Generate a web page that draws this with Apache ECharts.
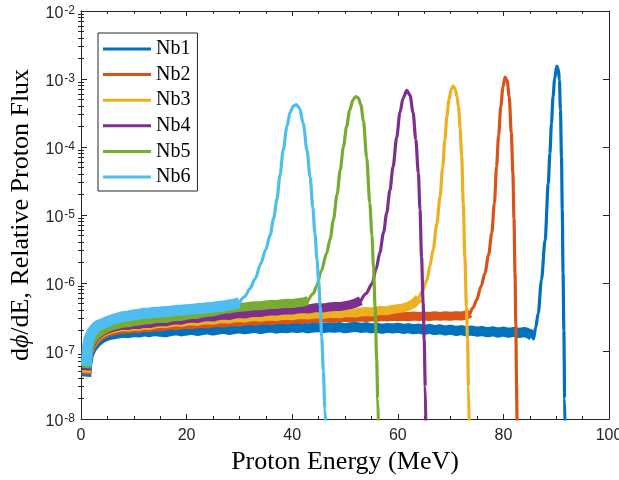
<!DOCTYPE html>
<html><head><meta charset="utf-8">
<script src="https://cdn.jsdelivr.net/npm/echarts@6/dist/echarts.min.js"></script>
<style>html,body{margin:0;padding:0;background:#fff}#c{width:619px;height:480px}</style>
</head><body><div id="c"></div>
<script>
const seriesNames = ['Nb1','Nb2','Nb3','Nb4','Nb5','Nb6'];
const seriesColors = ['#0072BD','#D95319','#EDB120','#7E2F8E','#77AC30','#4DBEEE'];
const xTickLabels = ['0','20','40','60','80','100'];
const yTickExps = ['-8','-7','-6','-5','-4','-3','-2'];

// noisy plateau parts [energy MeV, flux]
const nb1Band = [[1,4.2e-8],[1.2,6.5e-8],[1.5,8.8e-8],[2,1.08e-7],[2.5,1.22e-7],[3,1.35e-7],[3.5,1.45e-7],[4,1.55e-7],[5,1.68e-7],[6,1.75e-7],[7,1.80e-7],[8,1.86e-7],[9,1.83e-7],[10,1.90e-7],[11,1.87e-7],[12,1.95e-7],[13,1.89e-7],[14,1.97e-7],[15,1.92e-7],[16,1.88e-7],[17,1.96e-7],[18,2.02e-7],[19,1.94e-7],[20,2.00e-7],[21,2.05e-7],[22,1.97e-7],[23,2.03e-7],[24,2.08e-7],[25,2.00e-7],[26,2.06e-7],[27,2.12e-7],[28,2.04e-7],[29,2.10e-7],[30,2.15e-7],[31,2.08e-7],[32,2.14e-7],[33,2.19e-7],[34,2.10e-7],[35,2.17e-7],[36,2.22e-7],[37,2.13e-7],[38,2.20e-7],[39,2.16e-7],[40,2.24e-7],[41,2.18e-7],[42,2.23e-7],[43,2.15e-7],[44,2.21e-7],[45,2.26e-7],[46,2.17e-7],[47,2.24e-7],[48,2.19e-7],[49,2.25e-7],[50,2.16e-7],[51,2.22e-7],[52,2.27e-7],[53,2.18e-7],[54,2.24e-7],[55,2.15e-7],[56,2.21e-7],[57,2.12e-7],[58,2.19e-7],[59,2.14e-7],[60,2.20e-7],[61,2.11e-7],[62,2.17e-7],[63,2.08e-7],[64,2.14e-7],[65,2.05e-7],[66,2.12e-7],[67,2.03e-7],[68,2.09e-7],[69,2.00e-7],[70,2.06e-7],[71,1.97e-7],[72,2.03e-7],[73,1.94e-7],[74,2.00e-7],[75,1.92e-7],[76,1.97e-7],[77,1.88e-7],[78,1.95e-7],[79,1.86e-7],[80,1.93e-7],[81,1.85e-7],[82,1.91e-7],[83,1.84e-7],[84,1.90e-7],[85,1.78e-7],[85.5,1.65e-7]];
const nb2Band = [[1,4.5e-8],[1.2,7e-8],[1.5,9.5e-8],[2,1.18e-7],[2.5,1.35e-7],[3,1.5e-7],[3.5,1.62e-7],[4,1.72e-7],[5,1.88e-7],[6,1.98e-7],[7,2.05e-7],[8,2.12e-7],[9,2.10e-7],[10,2.18e-7],[11,2.15e-7],[12,2.24e-7],[13,2.20e-7],[14,2.29e-7],[15,2.25e-7],[16,2.33e-7],[17,2.40e-7],[18,2.34e-7],[19,2.43e-7],[20,2.48e-7],[21,2.42e-7],[22,2.52e-7],[23,2.56e-7],[24,2.50e-7],[25,2.60e-7],[26,2.64e-7],[27,2.58e-7],[28,2.68e-7],[29,2.72e-7],[30,2.66e-7],[31,2.76e-7],[32,2.80e-7],[33,2.73e-7],[34,2.83e-7],[35,2.86e-7],[36,2.79e-7],[37,2.88e-7],[38,2.92e-7],[39,2.85e-7],[40,2.94e-7],[41,2.97e-7],[42,2.90e-7],[43,2.99e-7],[44,3.02e-7],[45,2.95e-7],[46,3.04e-7],[47,3.07e-7],[48,3.00e-7],[49,3.09e-7],[50,3.12e-7],[51,3.05e-7],[52,3.13e-7],[53,3.17e-7],[54,3.10e-7],[55,3.19e-7],[56,3.14e-7],[57,3.22e-7],[58,3.16e-7],[59,3.24e-7],[60,3.18e-7],[61,3.25e-7],[62,3.19e-7],[63,3.27e-7],[64,3.21e-7],[65,3.28e-7],[66,3.22e-7],[67,3.29e-7],[68,3.23e-7],[69,3.30e-7],[70,3.24e-7],[71,3.31e-7],[72,3.26e-7],[73,3.38e-7],[73.7,3.6e-7]];
const nb3Band = [[1,4.8e-8],[1.2,7.4e-8],[1.5,1.0e-7],[2,1.25e-7],[2.5,1.43e-7],[3,1.6e-7],[3.5,1.73e-7],[4,1.84e-7],[5,2.0e-7],[6,2.12e-7],[7,2.2e-7],[8,2.28e-7],[9,2.25e-7],[10,2.34e-7],[11,2.31e-7],[12,2.41e-7],[13,2.38e-7],[14,2.48e-7],[15,2.56e-7],[16,2.52e-7],[17,2.62e-7],[18,2.68e-7],[19,2.62e-7],[20,2.73e-7],[21,2.78e-7],[22,2.72e-7],[23,2.84e-7],[24,2.89e-7],[25,2.83e-7],[26,2.95e-7],[27,3.0e-7],[28,2.94e-7],[29,3.06e-7],[30,3.1e-7],[31,3.04e-7],[32,3.15e-7],[33,3.2e-7],[34,3.13e-7],[35,3.24e-7],[36,3.28e-7],[37,3.21e-7],[38,3.32e-7],[39,3.36e-7],[40,3.29e-7],[41,3.40e-7],[42,3.44e-7],[43,3.37e-7],[44,3.48e-7],[45,3.52e-7],[46,3.45e-7],[47,3.56e-7],[48,3.60e-7],[49,3.53e-7],[50,3.64e-7],[51,3.68e-7],[52,3.62e-7],[53,3.74e-7],[54,3.80e-7],[55,3.75e-7],[56,3.88e-7],[57,3.95e-7],[58,3.92e-7],[59,4.08e-7],[60,4.2e-7],[61,4.3e-7],[62,4.55e-7],[63,5.0e-7],[64,6.0e-7]];
const nb4Band = [[1,5.2e-8],[1.2,7.8e-8],[1.5,1.05e-7],[2,1.3e-7],[2.5,1.5e-7],[3,1.67e-7],[3.5,1.8e-7],[4,1.92e-7],[5,2.1e-7],[6,2.22e-7],[7,2.32e-7],[8,2.40e-7],[9,2.38e-7],[10,2.48e-7],[11,2.45e-7],[12,2.56e-7],[13,2.53e-7],[14,2.64e-7],[15,2.72e-7],[16,2.68e-7],[17,2.80e-7],[18,2.88e-7],[19,2.83e-7],[20,2.98e-7],[21,3.05e-7],[22,3.0e-7],[23,3.14e-7],[24,3.2e-7],[25,3.15e-7],[26,3.3e-7],[27,3.37e-7],[28,3.32e-7],[29,3.47e-7],[30,3.55e-7],[31,3.5e-7],[32,3.65e-7],[33,3.72e-7],[34,3.67e-7],[35,3.82e-7],[36,3.9e-7],[37,3.85e-7],[38,3.98e-7],[39,4.05e-7],[40,4.0e-7],[41,4.13e-7],[42,4.2e-7],[43,4.15e-7],[44,4.28e-7],[45,4.35e-7],[46,4.3e-7],[47,4.45e-7],[48,4.52e-7],[49,4.5e-7],[50,4.65e-7],[51,4.8e-7],[52,5.05e-7],[53,5.5e-7]];
const nb5Band = [[1,5.6e-8],[1.2,8.3e-8],[1.5,1.1e-7],[2,1.38e-7],[2.5,1.58e-7],[3,1.75e-7],[3.5,1.88e-7],[4,2.0e-7],[5,2.2e-7],[6,2.35e-7],[7,2.47e-7],[8,2.58e-7],[9,2.6e-7],[10,2.72e-7],[11,2.75e-7],[12,2.85e-7],[13,2.88e-7],[14,2.97e-7],[15,3.02e-7],[16,3.0e-7],[17,3.12e-7],[18,3.2e-7],[19,3.22e-7],[20,3.35e-7],[21,3.45e-7],[22,3.45e-7],[23,3.6e-7],[24,3.7e-7],[25,3.75e-7],[26,3.95e-7],[27,4.1e-7],[28,4.15e-7],[29,4.3e-7],[30,4.4e-7],[31,4.42e-7],[32,4.55e-7],[33,4.62e-7],[34,4.64e-7],[35,4.75e-7],[36,4.85e-7],[37,4.84e-7],[38,4.95e-7],[39,5.02e-7],[40,5.0e-7],[41,5.12e-7],[42,5.25e-7],[43,5.5e-7]];
const nb6Band = [[1,6e-8],[1.2,1.1e-7],[1.5,1.5e-7],[2,1.85e-7],[2.5,2.1e-7],[3,2.3e-7],[3.5,2.42e-7],[4,2.5e-7],[5,2.7e-7],[6,2.9e-7],[7,3.05e-7],[8,3.2e-7],[9,3.28e-7],[10,3.4e-7],[11,3.48e-7],[12,3.6e-7],[13,3.62e-7],[14,3.72e-7],[15,3.75e-7],[16,3.82e-7],[17,3.85e-7],[18,3.96e-7],[19,3.98e-7],[20,4.06e-7],[21,4.1e-7],[22,4.2e-7],[23,4.22e-7],[24,4.32e-7],[25,4.4e-7],[26,4.5e-7],[27,4.58e-7],[28,4.75e-7],[29,4.9e-7],[30,5.1e-7]];

// Bragg-peak parts [energy MeV, flux]
const nb1Peak = [[85.5,1.65e-7],[85.7,1.5e-7],[86.1,2.2e-7],[86.6,3.6e-7],[87.2,1.1e-6],[87.9,4.3e-6],[88.5,2.9e-5],[88.8,8e-5],[89.1,2.2e-4],[89.4,5.5e-4],[89.7,1.0e-3],[90.1,1.55e-3],[90.4,1.4e-3],[90.6,9.7e-4],[90.8,3.5e-4],[91.0,7.2e-5],[91.15,1.2e-5],[91.3,1.4e-6],[91.45,2e-7],[91.6,2e-8],[91.7,5e-9]];
const nb2Peak = [[73.7,3.6e-7],[74.3,4.4e-7],[74.9,5.6e-7],[75.8,9e-7],[76.5,1.4e-6],[77.2,2.6e-6],[77.8,5.4e-6],[78.3,1.5e-5],[78.7,5.1e-5],[79.1,1.5e-4],[79.5,3.9e-4],[79.9,7.5e-4],[80.3,1.07e-3],[80.7,9.5e-4],[81.1,5.5e-4],[81.5,1.6e-4],[81.8,4.1e-5],[82.0,9e-6],[82.2,1.4e-6],[82.35,2.5e-7],[82.5,3e-8],[82.6,5e-9]];
const nb3Peak = [[64,6.0e-7],[64.6,7.5e-7],[65.5,1.1e-6],[66.1,1.8e-6],[66.7,3.1e-6],[67.4,7.5e-6],[68.0,1.86e-5],[68.5,5e-5],[68.9,1.26e-4],[69.3,2.8e-4],[69.7,5e-4],[70.1,7e-4],[70.5,7.9e-4],[70.9,7e-4],[71.2,5.5e-4],[71.5,3.9e-4],[71.8,1.9e-4],[72.1,7.2e-5],[72.4,1.5e-5],[72.7,2.4e-6],[73.0,4.5e-7],[73.2,1.45e-7],[73.4,3e-8],[73.55,5e-9]];
const nb4Peak = [[53,5.5e-7],[54,7e-7],[55.1,9.7e-7],[55.9,1.6e-6],[56.6,2.8e-6],[57.3,5.5e-6],[57.9,1.07e-5],[58.5,2.3e-5],[59.1,5.1e-5],[59.8,1.4e-4],[60.4,3.2e-4],[61.0,5.2e-4],[61.7,6.8e-4],[62.3,5.8e-4],[62.9,3.2e-4],[63.4,1.3e-4],[63.9,4.1e-5],[64.2,1.2e-5],[64.5,2.4e-6],[64.8,5e-7],[65.0,1.45e-7],[65.2,3e-8],[65.35,5e-9]];
const nb5Peak = [[43,5.5e-7],[44,7e-7],[44.6,8.9e-7],[45.5,1.5e-6],[46.5,2.7e-6],[47.2,4.5e-6],[47.8,8.5e-6],[48.5,2e-5],[49.1,4.6e-5],[49.7,1e-4],[50.3,2e-4],[50.9,3.5e-4],[51.5,4.9e-4],[52.0,5.5e-4],[52.5,5.3e-4],[53.0,4.2e-4],[53.5,2.4e-4],[54.1,7e-5],[54.7,1.5e-5],[55.1,5e-6],[55.4,1.7e-6],[55.7,4.5e-7],[56.0,7.4e-8],[56.2,2e-8],[56.4,5e-9]];
const nb6Peak = [[30,5.1e-7],[31,6.3e-7],[32,8.3e-7],[33,1.15e-6],[34,1.9e-6],[35,3.1e-6],[35.8,5e-6],[36.5,9e-6],[37.1,1.7e-5],[37.7,3.9e-5],[38.3,9e-5],[39.0,2e-4],[39.6,3.2e-4],[40.2,4e-4],[40.8,4.2e-4],[41.4,3.7e-4],[42.1,2.2e-4],[42.8,9e-5],[43.4,3.6e-5],[43.9,1.3e-5],[44.3,5.4e-6],[44.7,2.2e-6],[45.0,1.1e-6],[45.3,4.5e-7],[45.6,1.6e-7],[45.9,5e-8],[46.2,1.4e-8],[46.5,5e-9]];

const bands = [nb1Band, nb2Band, nb3Band, nb4Band, nb5Band, nb6Band];
const peaks = [nb1Peak, nb2Peak, nb3Peak, nb4Peak, nb5Peak, nb6Peak];
const bandWidths = [10, 9, 9, 9, 9, 11];

const AX = '#262626';
// minor log-tick positions (2..9 per decade), expressed in decades for a helper tick axis
const minorLog = [];
for (let k = -8; k < -2; k++) for (let m = 2; m <= 9; m++) minorLog.push(k + Math.log10(m));

const series = [];
seriesNames.forEach((n, i) => {
  series.push({type:'line', name:n, data:bands[i], symbol:'none', showSymbol:false, silent:true,
    lineStyle:{width:bandWidths[i], color:seriesColors[i], cap:'butt', join:'round'},
    itemStyle:{color:seriesColors[i]}, z:2});
  series.push({type:'line', name:n, data:peaks[i], symbol:'none', showSymbol:false, silent:true,
    smooth:0.3, smoothMonotone:'x',
    lineStyle:{width:3.2, color:seriesColors[i], cap:'round', join:'round'},
    itemStyle:{color:seriesColors[i]}, z:2});
});

function logAxis(extra) {
  return Object.assign({type:'log', logBase:10, min:1e-8, max:1e-2, splitNumber:6,
    splitLine:{show:false}, minorSplitLine:{show:false}}, extra);
}
function minorAxis(pos) {
  return {type:'value', min:-8, max:-2, position:pos, axisLine:{show:false},
    axisTick:{inside:true, length:3, lineStyle:{color:AX}, customValues:minorLog},
    axisLabel:{show:false}, splitLine:{show:false}};
}

const option = {
  animation:false,
  backgroundColor:'#fff',
  grid:{left:81, right:10, top:11, bottom:61, containLabel:false, outerBoundsMode:'none'},
  legend:{data:seriesNames, orient:'vertical', left:98, top:33,
    padding:[6,7,4,5], itemGap:5.6, itemWidth:48, itemHeight:3, icon:'rect',
    backgroundColor:'#fff', borderColor:AX, borderWidth:1, borderRadius:0,
    textStyle:{fontFamily:'Liberation Serif', fontSize:20, lineHeight:20, color:'#000'}},
  xAxis:[
    {type:'value', min:0, max:100, interval:20, position:'bottom',
      axisLine:{onZero:false, lineStyle:{color:AX, width:1}},
      axisTick:{inside:true, length:5, lineStyle:{color:AX}},
      minorTick:{show:true, splitNumber:4, length:3, lineStyle:{color:AX}},
      splitLine:{show:false},
      axisLabel:{margin:9, fontFamily:'Liberation Sans', fontSize:16, color:AX,
        formatter:(v)=>xTickLabels[Math.round(v/20)]},
      name:'Proton Energy (MeV)', nameLocation:'middle', nameGap:28,
      nameTextStyle:{fontFamily:'Liberation Serif', fontSize:26, color:'#000'}},
    {type:'value', min:0, max:100, interval:20, position:'top',
      axisLine:{onZero:false, lineStyle:{color:AX, width:1}},
      axisTick:{inside:true, length:5, lineStyle:{color:AX}},
      minorTick:{show:true, splitNumber:4, length:3, lineStyle:{color:AX}},
      splitLine:{show:false}, axisLabel:{show:false}}
  ],
  yAxis:[
    logAxis({position:'left',
      axisLine:{onZero:false, lineStyle:{color:AX, width:1}},
      axisTick:{inside:true, length:6, lineStyle:{color:AX}},
      axisLabel:{margin:6, color:AX,
        formatter:(v)=>'{b|10}{e|' + yTickExps[Math.round(Math.log10(v)) + 8] + '}',
        rich:{b:{fontFamily:'Liberation Sans', fontSize:16, lineHeight:16, color:AX, padding:[8,0,2,0]},
              e:{fontFamily:'Liberation Sans', fontSize:12, lineHeight:12, color:AX, padding:[2,0,0,1], verticalAlign:'top'}}},
      name:'{r|d}{i|ϕ}{r|/dE, Relative Proton Flux}', nameLocation:'middle', nameRotate:90, nameGap:44,
      nameTextStyle:{rich:{r:{fontFamily:'Liberation Serif', fontSize:26, color:'#000'},
                           i:{fontFamily:'Liberation Serif', fontStyle:'italic', fontSize:26, color:'#000'}}}}),
    minorAxis('left'),
    logAxis({position:'right',
      axisLine:{onZero:false, lineStyle:{color:AX, width:1}},
      axisTick:{inside:true, length:6, lineStyle:{color:AX}},
      axisLabel:{show:false}}),
    minorAxis('right')
  ],
  series: series
};
const chart = echarts.init(document.getElementById('c'), null, {renderer:'canvas'});
chart.setOption(option);
</script></body></html>
